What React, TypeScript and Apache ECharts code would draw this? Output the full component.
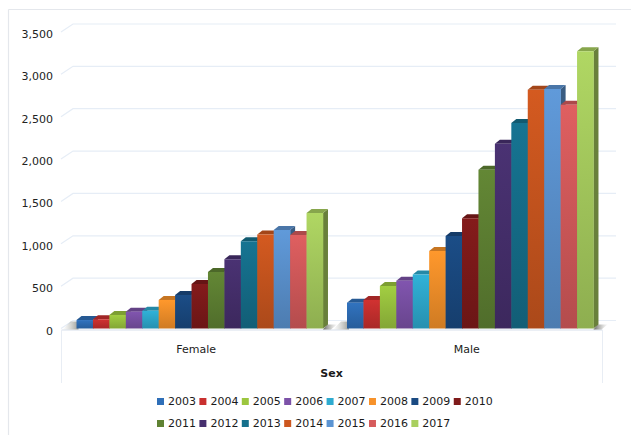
import React, { useEffect, useRef } from "react";
import * as echarts from "echarts";

const WIDTH = 631;
const HEIGHT = 435;

const categories = ["Female", "Male"];
const years = ["2003", "2004", "2005", "2006", "2007", "2008", "2009", "2010", "2011", "2012", "2013", "2014", "2015", "2016", "2017"];
const femaleValues = [100, 109, 160, 199, 210, 337, 396, 526, 668, 818, 1030, 1109, 1164, 1105, 1362];
const maleValues = [305, 337, 502, 565, 636, 916, 1093, 1302, 1873, 2180, 2425, 2819, 2827, 2642, 3272];
const yearColors = ["#2f6fb8", "#c9302f", "#9cc63f", "#7c52a8", "#2eabd0", "#f7922a", "#1a4a82", "#7f1a1a", "#5f8233", "#47306f", "#15708c", "#cc571f", "#5c94d2", "#d65b5c", "#a9cf5f"];
const gridTicks = [0, 500, 1000, 1500, 2000, 2500, 3000, 3500];

const FONT = "DejaVu Sans";
const DEPTH_X = 5;
const DEPTH_Y = 4;
const WALL_X = 12;
const WALL_Y = 8;
const BAR_SHIFT = 3.5;
const GROUP_SHARE = 246 / 270;

function shade(hex: string, k: number): string {
  const n = parseInt(hex.slice(1), 16);
  const ch = (v: number) => Math.max(0, Math.min(255, Math.round(v * k)));
  return `rgb(${ch((n >> 16) & 255)},${ch((n >> 8) & 255)},${ch(n & 255)})`;
}

// One 3D-looking column per category: front face, top facet and right side.
function renderColumn(params: any, api: any) {
  const catIndex = api.value(0);
  const [cx, top] = api.coord([catIndex, api.value(1)]);
  const [, base] = api.coord([catIndex, 0]);
  const band = api.size([1, 0])[0];
  const w = (band * GROUP_SHARE) / years.length;
  const x = cx + BAR_SHIFT - (w * years.length) / 2 + params.seriesIndex * w;
  const color = yearColors[params.seriesIndex];
  return {
    type: "group",
    children: [
      {
        type: "polygon",
        shape: { points: [[x + w, top], [x + w + DEPTH_X, top - DEPTH_Y], [x + w + DEPTH_X, base - DEPTH_Y], [x + w, base]] },
        style: { fill: shade(color, 0.62) },
      },
      {
        type: "polygon",
        shape: { points: [[x, top], [x + w, top], [x + w + DEPTH_X, top - DEPTH_Y], [x + DEPTH_X, top - DEPTH_Y]] },
        style: { fill: shade(color, 0.8) },
      },
      {
        type: "rect",
        shape: { x, y: top, width: w + 0.3, height: base - top },
        style: {
          fill: new echarts.graphic.LinearGradient(0, 0, 0, 1, [
            { offset: 0, color: shade(color, 1.04) },
            { offset: 1, color: shade(color, 0.84) },
          ]),
        },
      },
    ],
  };
}

// Gridline running along the left wall and across the back wall.
function renderWallLine(params: any, api: any) {
  const [, y] = api.coord([0, api.value(0)]);
  const { x, width } = params.coordSys;
  return {
    type: "polyline",
    shape: { points: [[x, y], [x + WALL_X, y - WALL_Y], [x + width + 14, y - WALL_Y]] },
    style: { fill: "none", stroke: "#e6edf6", lineWidth: 1.2 },
  };
}

// Soft floor shadow around each group of columns.
function renderFloor(params: any, api: any) {
  const [cx, base] = api.coord([api.value(0), 0]);
  const band = api.size([1, 0])[0];
  const half = (band * GROUP_SHARE) / 2;
  const left = cx + BAR_SHIFT - half;
  const right = cx + BAR_SHIFT + half;
  return {
    type: "group",
    children: [
      {
        type: "polygon",
        shape: { points: [[left - 14, base + 1], [left - 6, base - 7], [left + 2, base - 7], [left + 2, base + 1]] },
        style: {
          fill: new echarts.graphic.LinearGradient(0, 0, 1, 0, [
            { offset: 0, color: "rgba(190,192,186,0)" },
            { offset: 1, color: "rgba(150,152,146,0.95)" },
          ]),
        },
      },
      {
        type: "polygon",
        shape: { points: [[right, base + 1], [right + 4, base - 4], [right + 14, base - 4], [right + 8, base + 1]] },
        style: {
          fill: new echarts.graphic.LinearGradient(0, 0, 1, 0, [
            { offset: 0, color: "rgba(90,90,85,0.95)" },
            { offset: 1, color: "rgba(190,190,186,0.1)" },
          ]),
        },
      },
    ],
  };
}

const legendText = { fontFamily: FONT, fontSize: 11, color: "#1a1a1a" };

export default function App() {
  const ref = useRef<HTMLDivElement>(null);

  useEffect(() => {
    const chart = echarts.init(ref.current!, null, { renderer: "svg" });
    const yearSeries = years.map((year, i) => ({
      name: year,
      type: "custom",
      renderItem: renderColumn,
      itemStyle: { color: yearColors[i] },
      encode: { x: 0, y: 1 },
      clip: false,
      z: 5,
      data: [[0, femaleValues[i]], [1, maleValues[i]]],
    }));
    chart.setOption({
      animation: false,
      backgroundColor: "#fff",
      grid: { left: 61, right: 29, top: 32, bottom: 106.5 },
      xAxis: {
        type: "category",
        data: categories,
        name: "Sex",
        nameLocation: "middle",
        nameGap: 39,
        nameTextStyle: { fontFamily: FONT, fontSize: 11, fontWeight: "bold", color: "#1a1a1a" },
        axisLine: { show: false },
        axisTick: { show: false },
        axisLabel: { margin: 15, fontFamily: FONT, fontSize: 11, color: "#222" },
      },
      yAxis: {
        type: "value",
        min: 0,
        max: 3500,
        interval: 500,
        axisLine: { show: false },
        axisTick: { show: false },
        splitLine: { show: false },
        axisLabel: { margin: 8, fontFamily: FONT, fontSize: 11, color: "#222", verticalAlign: "top", padding: [-3, 0, 0, 0] },
      },
      legend: [
        {
          data: years.slice(0, 8),
          left: 157,
          top: 396,
          padding: 0,
          icon: "rect",
          itemWidth: 7,
          itemHeight: 7,
          itemGap: 3.4,
          textStyle: { ...legendText, padding: [0, 0, 0, -1] },
        },
        {
          data: years.slice(8),
          left: 157,
          top: 418,
          padding: 0,
          icon: "rect",
          itemWidth: 7,
          itemHeight: 7,
          itemGap: 3.4,
          textStyle: { ...legendText, padding: [0, 0, 0, -1] },
        },
      ],
      graphic: [
        { type: "line", silent: true, shape: { x1: 8.5, y1: 9.5, x2: 631, y2: 9.5 }, style: { stroke: "#e4e7ec", lineWidth: 1.2 } },
        { type: "line", silent: true, shape: { x1: 8.5, y1: 9.5, x2: 8.5, y2: 435 }, style: { stroke: "#e4e7ec", lineWidth: 1.2 } },
        { type: "line", silent: true, shape: { x1: 61.5, y1: 330, x2: 602.5, y2: 330 }, style: { stroke: "#e4eaf2", lineWidth: 1.5 } },
        { type: "line", silent: true, shape: { x1: 61.5, y1: 330, x2: 61.5, y2: 383 }, style: { stroke: "#e8edf4", lineWidth: 1 } },
        { type: "line", silent: true, shape: { x1: 602.5, y1: 330, x2: 602.5, y2: 383 }, style: { stroke: "#e8edf4", lineWidth: 1 } },
      ],
      series: [
        ...yearSeries,
        {
          type: "custom",
          name: "wall",
          renderItem: renderWallLine,
          encode: { y: 0 },
          silent: true,
          clip: false,
          z: 1,
          data: gridTicks.map((t) => [t]),
        },
        {
          type: "custom",
          name: "floor",
          renderItem: renderFloor,
          encode: { x: 0 },
          silent: true,
          clip: false,
          z: 2,
          data: categories.map((_, i) => [i]),
        },
      ],
    });
    return () => chart.dispose();
  }, []);

  return <div ref={ref} style={{ position: "fixed", left: 0, top: 0, width: WIDTH, height: HEIGHT }} />;
}
